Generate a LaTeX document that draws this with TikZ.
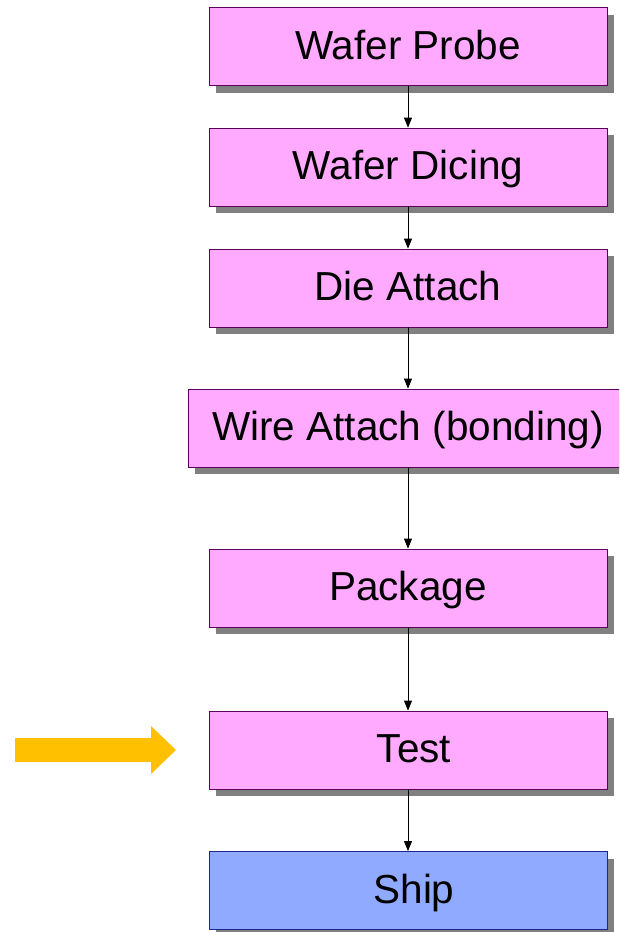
\documentclass[tikz,border=0pt]{standalone}
\usepackage{fontspec}
\setmainfont{Liberation Sans}
\usetikzlibrary{arrows.meta,shadows}
\definecolor{boxpink}{RGB}{255,170,255}
\definecolor{boxpinkline}{RGB}{90,0,90}
\definecolor{boxblue}{RGB}{143,170,255}
\definecolor{boxblueline}{RGB}{30,40,140}
\definecolor{shadowgray}{RGB}{128,128,128}
\definecolor{pointer}{RGB}{255,192,0}
\tikzset{
  stepbox/.style={draw=boxpinkline, fill=boxpink, line width=0.8pt,
    minimum width=398pt, minimum height=78pt, inner sep=0pt,
    text height=29pt, text depth=4pt,
    font=\fontsize{40.5}{46}\selectfont,
    drop shadow={shadow xshift=7pt, shadow yshift=-7pt, fill=shadowgray, opacity=1}},
  shipbox/.style={stepbox, draw=boxblueline, fill=boxblue},
  flow/.style={draw=black, line width=0.8pt, -{Triangle[length=10pt,width=8pt]}}
}
\begin{document}
\begin{tikzpicture}[x=1pt,y=1pt]
\useasboundingbox (0,0) rectangle (619,-932);
\clip (0,0) rectangle (619,-932);
\fill[white] (0,0) rectangle (619,-932);
\node[stepbox] (probe) at (408,-46.5) {Wafer Probe};
\node[stepbox] (dicing) at (408,-167) {Wafer Dicing};
\node[stepbox] (die) at (408,-288) {Die Attach};
\node[stepbox, minimum width=440pt] (wire) at (408,-428) {Wire Attach (bonding)};
\node[stepbox] (pkg) at (408,-588) {Package};
\node[stepbox] (test) at (408,-750) {\hspace*{12pt}Test};
\node[shipbox] (ship) at (408,-890.5) {\hspace*{12pt}Ship};
\draw[flow] (probe.south) -- (dicing.north);
\draw[flow] (dicing.south) -- (die.north);
\draw[flow] (die.south) -- (wire.north);
\draw[flow] (wire.south) -- (pkg.north);
\draw[flow] (pkg.south) -- (test.north);
\draw[flow] (test.south) -- (ship.north);
\fill[pointer] (15,-738) -- (151,-738) -- (151,-726) -- (176,-750) -- (151,-774) -- (151,-762) -- (15,-762) -- cycle;
\end{tikzpicture}
\end{document}
